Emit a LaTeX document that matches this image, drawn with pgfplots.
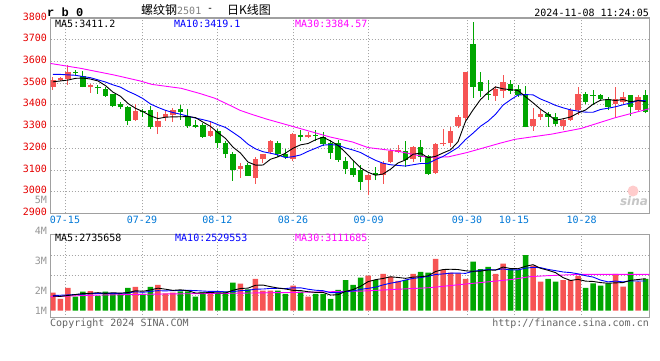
\documentclass[border=0pt]{standalone}
\usepackage{pgfplots}
\pgfplotsset{compat=1.18}
\usepackage{pgfplotstable}
\usepackage{fontspec}
\setmonofont{DejaVu Sans Mono}
\setsansfont{DejaVu Sans}
\newfontfamily\cjk{Noto Sans CJK SC}
\newfontfamily\lmono{Liberation Mono}
\definecolor{cred}{RGB}{246,84,84}
\definecolor{cgreen}{RGB}{0,166,0}
\definecolor{labred}{RGB}{230,0,0}
\definecolor{labblue}{RGB}{0,120,215}
\definecolor{framec}{RGB}{160,160,160}
\definecolor{gridc}{RGB}{165,165,165}
\definecolor{mag}{RGB}{255,0,255}
\definecolor{txtgray}{RGB}{100,100,100}
\definecolor{lblgray}{RGB}{150,150,150}

% red (rising) candles: index, open, close, high, low, volume (M)
\pgfplotstableread{
i o c h l v
0 3483 3514 3530 3470 1.54
1 3515 3524 3528 3508 1.00
2 3518 3550 3582 3492 1.94
5 3480 3492 3496 3455 1.68
11 3330 3370 3402 3325 2.03
14 3299 3325 3365 3265 2.20
15 3345 3357 3375 3325 1.49
16 3352 3378 3383 3322 1.54
21 3258 3280 3322 3252 1.68
25 3106 3117 3130 3063 2.31
27 3063 3152 3160 3037 2.71
28 3150 3172 3175 3130 1.71
29 3184 3232 3237 3172 1.71
32 3150 3265 3268 3140 2.14
34 3250 3263 3275 3245 1.20
42 3053 3076 3083 2983 2.99
44 3078 3132 3140 3037 3.14
45 3135 3186 3196 3130 2.91
46 3182 3190 3217 3176 2.54
48 3150 3206 3211 3137 3.14
51 3088 3219 3223 3083 4.42
52 3218 3225 3288 3210 3.48
53 3222 3279 3300 3206 3.25
54 3302 3345 3352 3294 3.20
55 3340 3549 3552 3322 2.71
59 3442 3472 3487 3419 3.14
60 3465 3505 3537 3432 4.02
64 3303 3334 3383 3280 3.85
65 3345 3357 3375 3329 2.48
68 3303 3332 3338 3283 2.62
69 3332 3375 3386 3325 2.62
70 3375 3449 3483 3355 2.97
75 3402 3425 3483 3345 3.14
76 3414 3437 3460 3406 2.05
78 3376 3437 3445 3368 2.48
}\redc

% green (falling) candles
\pgfplotstableread{
i o c h l v
3 3552 3545 3560 3535 1.20
4 3535 3483 3557 3480 1.62
6 3484 3480 3492 3450 1.26
7 3472 3442 3482 3435 1.62
8 3448 3395 3452 3388 1.49
9 3406 3388 3412 3380 1.43
10 3392 3325 3395 3306 1.94
12 3372 3365 3380 3345 1.43
13 3378 3298 3395 3288 2.03
17 3380 3366 3398 3330 1.66
18 3346 3304 3380 3294 1.66
19 3306 3300 3330 3291 1.20
20 3307 3253 3316 3248 1.57
22 3280 3222 3290 3202 1.49
23 3225 3171 3232 3156 1.62
24 3172 3098 3183 3050 2.39
26 3122 3073 3130 3073 1.83
30 3222 3172 3232 3160 1.71
31 3172 3158 3198 3152 1.43
33 3260 3250 3283 3232 1.62
35 3262 3258 3283 3232 1.43
36 3250 3220 3273 3208 1.43
37 3226 3176 3237 3152 1.00
38 3222 3146 3237 3137 1.77
39 3142 3104 3160 3080 2.62
40 3110 3076 3140 3068 2.20
41 3099 3045 3122 3006 2.82
43 3084 3076 3114 3053 2.62
47 3186 3146 3232 3114 2.62
49 3206 3160 3237 3137 3.31
50 3163 3080 3168 3078 3.25
56 3678 3483 3783 3432 4.19
57 3506 3465 3552 3434 3.56
58 3450 3443 3514 3422 3.74
61 3498 3464 3514 3452 3.56
62 3472 3446 3491 3437 3.48
63 3449 3298 3488 3296 4.76
66 3358 3345 3368 3300 2.71
67 3342 3310 3360 3302 2.48
71 3449 3414 3460 3406 1.94
72 3447 3443 3468 3400 2.34
73 3445 3425 3449 3417 2.14
74 3425 3392 3437 3376 2.34
77 3445 3392 3445 3350 3.31
79 3445 3368 3468 3360 2.71
}\greenc

% price moving averages: i, MA5, MA10
\pgfplotstableread{
i a b
0 3506 3540
1 3510 3540
2 3514 3538
3 3522 3536
4 3523.2 3530
5 3518.8 3525
6 3510.0 3515
7 3488.4 3505
8 3458.4 3492
9 3439.4 3481.3
10 3406.0 3462.4
11 3384.0 3447.0
12 3368.6 3428.5
13 3349.2 3403.8
14 3336.6 3388.0
15 3343.0 3374.5
16 3344.6 3364.3
17 3344.8 3356.7
18 3346.0 3347.6
19 3341.0 3338.8
20 3320.2 3331.6
21 3300.6 3322.6
22 3271.8 3308.3
23 3245.2 3295.6
24 3204.8 3272.9
25 3177.6 3248.9
26 3136.2 3218.4
27 3122.2 3197.0
28 3122.4 3183.8
29 3149.2 3177.0
30 3160.2 3168.9
31 3177.2 3156.7
32 3199.8 3161.0
33 3215.4 3168.9
34 3221.6 3185.4
35 3238.8 3199.5
36 3251.2 3214.2
37 3233.4 3216.6
38 3212.6 3214.0
39 3180.8 3201.2
40 3144.4 3191.6
41 3109.4 3180.3
42 3089.4 3161.4
43 3075.4 3144.0
44 3081.0 3130.9
45 3103.0 3123.7
46 3132.0 3120.7
47 3146.0 3117.7
48 3172.0 3123.7
49 3177.6 3129.3
50 3156.4 3129.7
51 3162.2 3147.1
52 3178.0 3162.0
53 3192.6 3182.3
54 3229.6 3203.6
55 3323.4 3239.9
56 3376.2 3269.2
57 3424.2 3301.1
58 3457.0 3324.8
59 3482.4 3356.0
60 3473.6 3398.5
61 3469.8 3423.0
62 3466.0 3445.1
63 3437.0 3447.0
64 3409.4 3445.9
65 3379.8 3426.7
66 3356.0 3412.9
67 3328.8 3397.4
68 3335.6 3386.3
69 3343.8 3376.6
70 3362.2 3371.0
71 3376.0 3366.0
72 3402.6 3365.7
73 3421.2 3378.4
74 3424.6 3384.2
75 3419.8 3391.0
76 3424.4 3400.2
77 3414.2 3408.4
78 3419.2 3420.2
79 3414.4 3419.5
}\pma

\pgfplotstableread{
i v
-0.4 3591
3.7 3568
8.2 3537
11.6 3510
13.2 3494
17.1 3476
19.6 3452
21.6 3430
24.0 3391
24.9 3375
26.5 3356
28.5 3334
32.0 3300
36.9 3252
39.9 3229
42.0 3203
46.0 3186
49.9 3158
52.7 3160
55.2 3180
59.7 3224
61.6 3241
66.5 3265
70.4 3291
74.9 3340
79.5 3382
}\pmathirty

% volume moving averages (M): i, MA5, MA10
\pgfplotstableread{
i a b
0 1.25 1.30
1 1.22 1.32
2 1.30 1.35
3 1.38 1.38
4 1.460 1.42
5 1.488 1.45
6 1.540 1.47
7 1.476 1.48
8 1.534 1.48
9 1.496 1.478
10 1.548 1.518
11 1.702 1.621
12 1.664 1.570
13 1.772 1.653
14 1.926 1.711
15 1.836 1.692
16 1.738 1.720
17 1.784 1.724
18 1.710 1.741
19 1.510 1.718
20 1.526 1.681
21 1.554 1.646
22 1.520 1.652
23 1.512 1.611
24 1.750 1.630
25 1.898 1.712
26 1.928 1.741
27 2.172 1.846
28 2.190 1.851
29 2.054 1.902
30 1.934 1.916
31 1.854 1.891
32 1.740 1.956
33 1.722 1.956
34 1.620 1.837
35 1.564 1.749
36 1.564 1.709
37 1.336 1.538
38 1.366 1.544
39 1.650 1.635
40 1.804 1.684
41 2.082 1.823
42 2.480 1.908
43 2.650 2.008
44 2.754 2.202
45 2.896 2.350
46 2.840 2.461
47 2.766 2.623
48 2.870 2.760
49 2.904 2.829
50 2.972 2.934
51 3.348 3.094
52 3.520 3.143
53 3.542 3.206
54 3.520 3.212
55 3.412 3.192
56 3.366 3.357
57 3.382 3.451
58 3.480 3.511
59 3.468 3.494
60 3.730 3.571
61 3.604 3.485
62 3.588 3.485
63 3.792 3.636
64 3.934 3.701
65 3.626 3.678
66 3.456 3.530
67 3.256 3.422
68 2.828 3.310
69 2.582 3.258
70 2.680 3.153
71 2.526 2.991
72 2.498 2.877
73 2.402 2.615
74 2.346 2.464
75 2.380 2.530
76 2.402 2.464
77 2.596 2.547
78 2.664 2.533
79 2.738 2.542
}\vma

\pgfplotstableread{
i v
-0.4 1.20
6.3 1.34
15.2 1.43
24.0 1.49
32.9 1.57
36.9 1.62
41.3 1.68
45.9 1.83
50.3 1.97
54.7 2.26
59.2 2.54
61.3 2.68
63.6 2.91
65.9 2.99
70.3 3.11
74.7 3.10
79.5 3.11
}\vmathirty

\pgfplotsset{
  kpanel/.style={
    scale only axis, width=599pt,
    xmin=-0.33, xmax=79.53,
    axis line style={framec, line width=1.1pt},
    major tick length=0pt,
    grid=major,
    grid style={gridc, line width=0.8pt, dash pattern=on 1pt off 2pt},
    xtick={1.6,11.87,21.91,32.0,42.09,55.2,61.47,70.47},
    tick label style={font=\fontsize{10}{10}\selectfont\ttfamily},
    /pgf/number format/assume math mode=true,
    /pgf/number format/1000 sep={},
    no markers,
  },
  wick/.style={draw=none, mark=none, forget plot,
    error bars/.cd, y dir=plus, y explicit, error mark=none,
    error bar style={draw=#1, line width=1pt}},
  body/.style={draw=none, mark=none, forget plot,
    error bars/.cd, y dir=plus, y explicit, error mark=none,
    error bar style={draw=#1, line width=5.5pt}},
}

\begin{document}
\begin{tikzpicture}[x=1pt,y=1pt]
\fill[white] (0,0) rectangle (660,360);
\path[use as bounding box] (0,0) rectangle (660,360);

% ---------- price panel ----------
\begin{axis}[kpanel, at={(50.5pt,146.7pt)}, anchor=south west, height=195.3pt,
  ymin=2900, ymax=3800, ytick={2900,3000,...,3800},
  yticklabel style={text=labred, yshift=1.5pt},
  xticklabels={07-15,07-29,08-12,08-26,09-09,09-30,10-15,10-28},
  xticklabel style={text=labblue, yshift=1pt},
]
\addplot[wick=cred] table[x=i, y=l, y error plus expr=\thisrow{h}-\thisrow{l}] {\redc};
\addplot[body=cred] table[x=i, y=o, y error plus expr=\thisrow{c}-\thisrow{o}] {\redc};
\addplot[wick=cgreen] table[x=i, y=l, y error plus expr=\thisrow{h}-\thisrow{l}] {\greenc};
\addplot[body=cgreen] table[x=i, y=c, y error plus expr=\thisrow{o}-\thisrow{c}] {\greenc};
\addplot[mag, line width=0.9pt] table[x=i, y=v] {\pmathirty};
\addplot[blue, line width=0.9pt] table[x=i, y=b] {\pma};
\addplot[black, line width=0.9pt] table[x=i, y=a] {\pma};
\end{axis}

% ---------- volume panel ----------
\begin{axis}[kpanel, at={(50.5pt,42.3pt)}, anchor=south west, height=83.4pt,
  ymin=-0.6, ymax=6.53, ytick={1.34,3.05,4.76}, yticklabels={}, xticklabels={},
]
\addplot[ybar, bar width=5.5pt, bar shift=0pt, fill=cred, draw=none] table[x=i, y=v] {\redc};
\addplot[ybar, bar width=5.5pt, bar shift=0pt, fill=cgreen, draw=none] table[x=i, y=v] {\greenc};
\addplot[mag, line width=0.9pt] table[x=i, y=v] {\vmathirty};
\addplot[blue, line width=0.9pt] table[x=i, y=b] {\vma};
\addplot[black, line width=0.9pt] table[x=i, y=a] {\vma};
\end{axis}

% ---------- texts ----------
\def\mono{\fontsize{10}{10}\selectfont\ttfamily}
\node[anchor=west, inner sep=0pt, font=\lmono\bfseries\fontsize{12}{12}\selectfont] at (47,347.5) {r b 0};
\node[anchor=west, inner sep=0pt, font=\cjk\fontsize{12}{12}\selectfont] at (141,350) {螺纹钢{\color{gray}\fontsize{10}{10}\selectfont\ttfamily 2501}};
\node[anchor=west, inner sep=0pt, font=\mono] at (207,350) {-};
\node[anchor=west, inner sep=0pt, font=\cjk\fontsize{12}{12}\selectfont] at (227,350) {日K线图};
\node[anchor=east, inner sep=0pt, font=\mono] at (649,347.5) {2024-11-08 11:24:05};

\node[anchor=west, inner sep=0pt, font=\mono, text=black] at (55,336) {MA5:3411.2};
\node[anchor=west, inner sep=0pt, font=\mono, text=blue] at (174,336) {MA10:3419.1};
\node[anchor=west, inner sep=0pt, font=\mono, text=mag] at (295,336) {MA30:3384.57};

\node[anchor=west, inner sep=0pt, font=\mono, text=black] at (55,121.7) {MA5:2735658};
\node[anchor=west, inner sep=0pt, font=\mono, text=blue] at (175,121.7) {MA10:2529553};
\node[anchor=west, inner sep=0pt, font=\mono, text=mag] at (295,121.7) {MA30:3111685};

\node[anchor=east, inner sep=0pt, font=\mono, text=lblgray] at (47,160) {5M};
\node[anchor=east, inner sep=0pt, font=\mono, text=lblgray] at (47,129.3) {4M};
\node[anchor=east, inner sep=0pt, font=\mono, text=lblgray] at (47,99.3) {3M};
\node[anchor=east, inner sep=0pt, font=\mono, text=lblgray] at (47,69.3) {2M};
\node[anchor=east, inner sep=0pt, font=\mono, text=lblgray] at (47,49.3) {1M};

\node[anchor=west, inner sep=0pt, font=\mono, text=txtgray] at (50,36.7) {Copyright 2024 SINA.COM};
\node[anchor=east, inner sep=0pt, font=\mono, text=txtgray] at (649,36.7) {http://finance.sina.com.cn};

% sina watermark
\fill[red!20] (633,169) circle (5.5);
\node[inner sep=0pt, font=\sffamily\bfseries\itshape\fontsize{12}{12}\selectfont, text=gray!45] at (634,159) {sina};
\end{tikzpicture}
\end{document}
